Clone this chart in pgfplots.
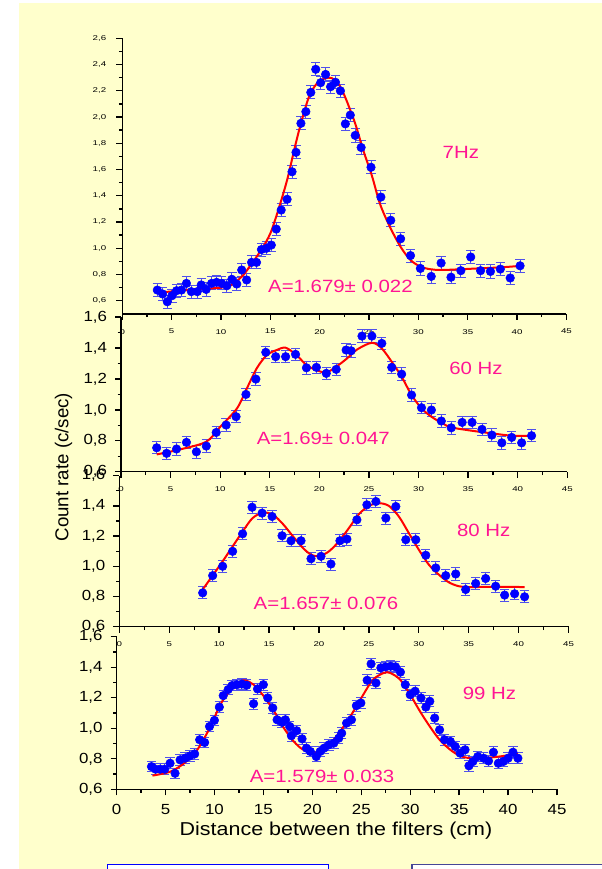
\documentclass[border=0pt]{standalone}
\usepackage{fontspec}
\setmainfont{Liberation Sans}[FakeStretch=1.15]
\newfontfamily\plainf{Liberation Sans}
\newfontfamily\smallf{Liberation Sans}[FakeStretch=1.4]
\usepackage{pgfplots}
\pgfplotsset{compat=1.18}
\usepackage{pgfplotstable}

\definecolor{bgyellow}{RGB}{255,255,204}
\definecolor{dotblue}{RGB}{0,0,255}
\definecolor{errblue}{RGB}{80,80,235}
\definecolor{fitred}{RGB}{255,0,0}
\definecolor{annpink}{RGB}{255,20,147}
\definecolor{boxblue}{RGB}{0,0,255}
\definecolor{boxslate}{RGB}{70,70,150}

% 7 Hz
\pgfplotstableread{
x y
3.55 0.681
4.09 0.651
4.56 0.592
5.03 0.638
5.50 0.676
6.00 0.681
6.50 0.732
7.00 0.669
7.60 0.669
8.00 0.720
8.50 0.686
9.05 0.732
9.56 0.740
10.07 0.732
10.60 0.714
11.10 0.763
11.60 0.727
12.10 0.834
12.60 0.758
13.10 0.892
13.60 0.892
14.10 0.990
14.60 0.999
15.10 1.024
15.60 1.146
16.10 1.291
16.70 1.373
17.20 1.583
17.60 1.731
18.10 1.952
18.60 2.041
19.10 2.188
19.60 2.364
20.10 2.262
20.60 2.325
21.10 2.231
21.60 2.265
22.10 2.200
22.60 1.948
23.10 2.015
23.60 1.860
24.20 1.768
25.20 1.617
26.20 1.390
27.20 1.213
28.20 1.072
29.20 0.944
30.20 0.846
31.30 0.785
32.30 0.887
33.30 0.779
34.30 0.829
35.30 0.933
36.30 0.829
37.30 0.823
38.30 0.841
39.30 0.773
40.30 0.866
}\dataA
\pgfplotstableread{
x y
3.65 0.661
7.20 0.686
10.6 0.707
12.1 0.783
12.9 0.860
14.1 0.990
15.0 1.113
15.8 1.290
16.7 1.520
17.5 1.775
18.2 1.980
19.0 2.170
19.9 2.270
20.9 2.300
21.5 2.285
22.1 2.230
22.7 2.130
23.6 1.950
24.4 1.750
25.3 1.550
26.1 1.340
27.1 1.165
28.2 1.010
29.2 0.910
30.2 0.860
31.2 0.840
32.3 0.834
34.4 0.840
36.3 0.847
38.3 0.854
40.3 0.865
}\fitA

% 60 Hz
\pgfplotstableread{
x y
3.6 0.755
4.6 0.719
5.6 0.747
6.6 0.790
7.6 0.729
8.6 0.766
9.6 0.854
10.6 0.902
11.6 0.956
12.6 1.100
13.6 1.199
14.6 1.372
15.6 1.344
16.6 1.344
17.6 1.359
18.7 1.272
19.7 1.275
20.7 1.236
21.7 1.262
22.7 1.387
23.2 1.382
24.3 1.477
25.3 1.477
26.3 1.430
27.3 1.275
28.3 1.231
29.3 1.096
30.3 1.014
31.3 0.999
32.3 0.928
33.3 0.884
34.4 0.919
35.4 0.919
36.4 0.874
37.4 0.837
38.4 0.787
39.4 0.822
40.4 0.787
41.4 0.833
}\dataB
\pgfplotstableread{
x y
3.6 0.712
6.0 0.745
8.6 0.794
10.0 0.890
11.7 1.010
12.7 1.140
13.7 1.270
14.7 1.354
15.7 1.387
16.6 1.402
17.7 1.354
18.7 1.290
19.7 1.257
20.7 1.242
21.7 1.279
22.8 1.333
23.8 1.390
25.3 1.434
26.3 1.397
27.3 1.311
28.3 1.214
29.3 1.096
30.3 1.010
31.3 0.956
32.3 0.917
33.3 0.887
35.4 0.865
37.4 0.848
39.4 0.833
41.2 0.833
}\fitB

% 80 Hz
\pgfplotstableread{
x y
8.35 0.824
9.35 0.938
10.35 1.000
11.35 1.099
12.35 1.215
13.3 1.391
14.3 1.352
15.3 1.330
16.3 1.202
17.2 1.169
18.2 1.169
19.2 1.050
20.2 1.066
21.2 1.015
22.1 1.169
22.8 1.180
23.8 1.308
24.8 1.407
25.7 1.429
26.7 1.319
27.7 1.396
28.7 1.176
29.7 1.176
30.7 1.073
31.7 0.989
32.7 0.938
33.7 0.949
34.7 0.846
35.7 0.886
36.7 0.919
37.7 0.868
38.6 0.809
39.6 0.818
40.6 0.798
}\dataC
\pgfplotstableread{
x y
8.35 0.846
10.35 1.033
12.35 1.230
13.35 1.319
14.4 1.356
15.4 1.341
16.4 1.279
17.4 1.198
18.4 1.121
19.2 1.077
20.0 1.066
21.0 1.099
22.0 1.165
23.0 1.253
24.0 1.345
25.0 1.400
26.0 1.418
27.0 1.400
28.0 1.330
29.0 1.220
30.0 1.110
31.0 1.011
32.0 0.945
33.0 0.894
34.0 0.868
35.0 0.862
37.0 0.864
39.0 0.864
40.6 0.862
}\fitC

% 99 Hz
\pgfplotstableread{
x y
3.57 0.749
3.99 0.732
4.45 0.732
4.92 0.732
5.47 0.771
5.98 0.705
6.49 0.793
7.00 0.804
7.50 0.819
7.98 0.832
8.49 0.925
9.00 0.907
9.50 1.012
10.00 1.052
10.50 1.139
10.90 1.214
11.40 1.254
11.80 1.280
12.30 1.286
12.80 1.290
13.30 1.282
14.00 1.161
14.40 1.258
15.00 1.286
15.45 1.199
15.96 1.133
16.40 1.056
16.90 1.039
17.25 1.056
17.70 1.012
17.86 0.951
18.40 0.984
18.95 0.931
19.40 0.870
19.80 0.848
20.40 0.815
20.80 0.848
21.20 0.870
21.70 0.892
22.20 0.903
22.70 0.935
23.00 0.968
23.50 1.034
24.00 1.056
24.50 1.148
24.96 1.166
25.60 1.315
26.00 1.422
26.50 1.297
27.00 1.396
27.50 1.403
28.00 1.407
28.50 1.403
29.00 1.368
29.50 1.286
30.00 1.220
30.50 1.243
31.10 1.199
31.60 1.139
32.00 1.177
32.50 1.067
33.00 0.990
33.50 0.925
34.10 0.914
34.60 0.881
35.10 0.837
35.60 0.859
36.00 0.754
36.40 0.782
36.90 0.815
37.50 0.804
38.00 0.786
38.50 0.843
39.00 0.771
39.50 0.782
40.00 0.804
40.50 0.843
41.00 0.804
}\dataD
\pgfplotstableread{
x y
3.67 0.690
5.5 0.716
6.9 0.771
8.25 0.859
9.6 1.012
10.6 1.155
11.65 1.253
12.7 1.308
13.2 1.313
14.0 1.286
15.0 1.214
16.1 1.111
17.1 1.001
18.1 0.914
19.1 0.859
20.5 0.840
21.2 0.865
22.2 0.925
23.2 1.012
24.2 1.111
25.2 1.220
26.2 1.319
27.3 1.363
27.95 1.363
28.97 1.319
30.0 1.220
31.0 1.111
32.0 1.012
33.0 0.925
34.1 0.859
35.1 0.819
36.1 0.804
37.1 0.800
38.1 0.808
39.1 0.815
41.0 0.832
}\fitD

\pgfplotsset{
  panel/.style={
    scale only axis, anchor=south west,
    axis lines=left, axis line style={-, line width=1.1pt},
    xmin=0, xmax=45, xtick={0,5,...,45},
    minor x tick num=1, minor y tick num=1,
    tick align=outside, major tick length=4.5pt, minor tick length=2.5pt,
    every tick/.style={black, line width=1pt},
    /pgf/number format/assume math mode=true,
    y tick label style={/pgf/number format/fixed, /pgf/number format/fixed zerofill,
      /pgf/number format/precision=1, /pgf/number format/use comma,
      /pgf/number format/assume math mode=true},
  },
  smallx/.style={x tick label style={font=\smallf\fontsize{5.2}{6}\selectfont, yshift=-3.5pt}},
  smally/.style={y tick label style={font=\smallf\fontsize{5.2}{6}\selectfont, xshift=-4pt}},
  bigx/.style={x tick label style={font=\fontsize{11}{13}\selectfont, yshift=-3pt}},
  bigy/.style={y tick label style={font=\fontsize{11}{13}\selectfont, xshift=-2.5pt}},
  pts/.style={only marks, mark=*, mark size=3.2pt, color=dotblue,
    mark options={draw=dotblue, fill=dotblue},
    error bars/.cd, y dir=both, y fixed=#1,
    error bar style={errblue, line width=0.7pt},
    error mark options={rotate=90, mark size=3.5pt, errblue, line width=0.7pt}},
  fitline/.style={smooth, fitred, line width=1.5pt, no markers},
}
\tikzset{ann/.style={annpink, font=\fontsize{13.3}{15}\selectfont}}

\begin{document}
\begin{tikzpicture}
\path[use as bounding box] (0,0) rectangle (451.5pt,-651.75pt);
\fill[white] (0,0) rectangle (451.5pt,-651.75pt);
\fill[bgyellow] (14.25pt,-2.25pt) rectangle (452pt,-652pt);
\draw[boxblue, line width=1pt, fill=white] (80.6pt,-655pt) rectangle (246.4pt,-648.2pt);
\draw[boxslate, line width=1pt, fill=white] (309pt,-655pt) rectangle (455pt,-648.2pt);

% 7 Hz
\begin{axis}[panel, smallx, smally, at={(91.7pt,-235.35pt)},
  width=333.15pt, height=206.6pt, ymin=0.5, ymax=2.6,
  ytick={0.6,0.8,1.0,1.2,1.4,1.6,1.8,2.0,2.2,2.4,2.6}]
  \addplot[pts=0.05] table[x=x, y=y] {\dataA};
  \addplot[fitline] table[x=x, y=y] {\fitA};
  \node[ann] at (axis cs:34.3,1.73) {7Hz};
  \node[ann] at (axis cs:22.1,0.71) {A=1.679± 0.022};
\end{axis}

% 60 Hz
\begin{axis}[panel, smallx, bigy, at={(90.75pt,-353.8pt)},
  width=334.7pt, height=116pt, ymin=0.6, ymax=1.6,
  ytick={0.6,0.8,1.0,1.2,1.4,1.6}]
  \addplot[pts=0.04] table[x=x, y=y] {\dataB};
  \addplot[fitline] table[x=x, y=y] {\fitB};
  \node[ann] at (axis cs:35.8,1.27) {60 Hz};
  \node[ann] at (axis cs:20.4,0.814) {A=1.69± 0.047};
\end{axis}

% 80 Hz
\begin{axis}[panel, smallx, bigy, at={(89.5pt,-470pt)},
  width=336.9pt, height=113.25pt, ymin=0.6, ymax=1.6,
  ytick={0.6,0.8,1.0,1.2,1.4,1.6}]
  \addplot[pts=0.04] table[x=x, y=y] {\dataC};
  \addplot[fitline] table[x=x, y=y] {\fitC};
  \node[ann] at (axis cs:36.5,1.236) {80 Hz};
  \node[ann] at (axis cs:20.7,0.757) {A=1.657± 0.076};
\end{axis}

% 99 Hz
\begin{axis}[panel, bigx, bigy, at={(87.4pt,-592pt)},
  width=330.4pt, height=114.45pt, ymin=0.6, ymax=1.6,
  ytick={0.6,0.8,1.0,1.2,1.4,1.6}]
  \addplot[pts=0.035] table[x=x, y=y] {\dataD};
  \addplot[fitline] table[x=x, y=y] {\fitD};
  \node[ann] at (axis cs:38.1,1.23) {99 Hz};
  \node[ann] at (axis cs:21.0,0.685) {A=1.579± 0.033};
\end{axis}

\node[rotate=90, font=\plainf\fontsize{14}{16}\selectfont] at (47.6pt,-350.3pt) {Count rate (c/sec)};
\node[font=\fontsize{14}{16}\selectfont] at (252pt,-623pt) {Distance between the filters (cm)};
\end{tikzpicture}
\end{document}
